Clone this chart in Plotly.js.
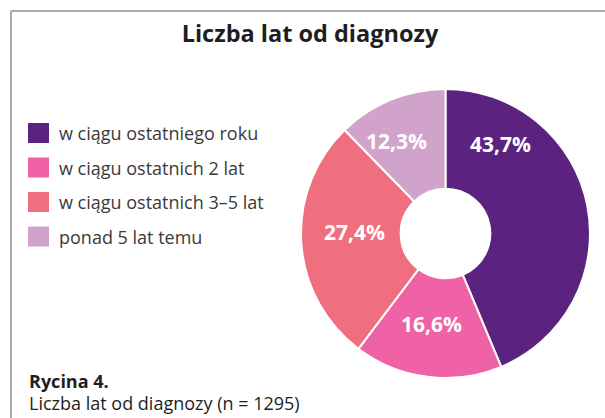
<!DOCTYPE html>
<html>
<head>
<meta charset="utf-8">
<script src="https://cdn.plot.ly/plotly-3.0.1.min.js"></script>
<style>html,body{margin:0;padding:0;background:#fff;}#chart{width:605px;height:418px;}</style>
</head>
<body>
<div id="chart"></div>
<script>
const categories = ["w ciągu ostatniego roku", "w ciągu ostatnich 2 lat", "w ciągu ostatnich 3–5 lat", "ponad 5 lat temu"];
const values = [43.7, 16.6, 27.4, 12.3];
const colors = ["#5B2280", "#EF62A6", "#EF6F7E", "#D1A3CB"];
const chartTitle = "Liczba lat od diagnozy";
const captionHead = "Rycina 4.";
const captionText = "Liczba lat od diagnozy (n = 1295)";

const W = 605, H = 418;
const px = x => x / W;
const py = y => 1 - y / H;
const FONT = "Open Sans, sans-serif";

// layout: label placement (pixel positions of the percentage labels)
const labelPos = [[500, 144], [431, 324], [354, 232], [396, 141]];

const labelsText = values.map(v => v.toFixed(1).replace('.', ',') + '%');

const trace = {
  type: 'pie',
  labels: categories,
  values: values,
  text: labelsText,
  textinfo: 'none',
  hole: 0.31,
  sort: false,
  direction: 'clockwise',
  rotation: 0,
  marker: {colors: colors, line: {color: '#ffffff', width: 2}},
  domain: {x: [px(301), px(590)], y: [py(378), py(89)]},
  showlegend: false,
  hoverinfo: 'label+text'
};

const shapes = [
  {type: 'line', xref: 'paper', yref: 'paper', x0: px(11), x1: px(605), y0: py(11), y1: py(11), line: {color: '#ababab', width: 2}},
  {type: 'line', xref: 'paper', yref: 'paper', x0: px(11), x1: px(11), y0: py(11), y1: py(418), line: {color: '#ababab', width: 2}}
];
const annotations = [];
categories.forEach((c, i) => {
  const yc = 133 + i * 34.5;
  shapes.push({type: 'rect', xref: 'paper', yref: 'paper', x0: px(28), x1: px(49), y0: py(yc + 10), y1: py(yc - 10), fillcolor: colors[i], line: {width: 0}});
  annotations.push({xref: 'paper', yref: 'paper', x: px(57), y: py(yc), xanchor: 'left', yanchor: 'middle', showarrow: false, text: c, font: {family: FONT, size: 18, color: '#3a3a3a'}});
});
labelsText.forEach((t, i) => {
  annotations.push({xref: 'paper', yref: 'paper', x: px(labelPos[i][0]), y: py(labelPos[i][1]), xanchor: 'center', yanchor: 'middle', showarrow: false, text: '<b>' + t + '</b>', font: {family: FONT, size: 21, color: '#ffffff'}});
});
annotations.push({xref: 'paper', yref: 'paper', x: px(27), y: py(381), xanchor: 'left', yanchor: 'middle', showarrow: false, text: '<b>' + captionHead + '</b>', font: {family: FONT, size: 18, color: '#1e1e1e'}});
annotations.push({xref: 'paper', yref: 'paper', x: px(27), y: py(403), xanchor: 'left', yanchor: 'middle', showarrow: false, text: captionText, font: {family: FONT, size: 18, color: '#1e1e1e'}});

const layout = {
  width: W, height: H,
  margin: {l: 0, r: 0, t: 0, b: 0},
  paper_bgcolor: '#ffffff',
  title: {text: '<b>' + chartTitle + '</b>', x: px(310), y: py(34), xanchor: 'center', yanchor: 'middle', xref: 'paper', yref: 'paper', font: {family: FONT, size: 23.5, color: '#1e1e1e'}},
  shapes: shapes,
  annotations: annotations,
  showlegend: false
};

Plotly.newPlot('chart', [trace], layout, {displayModeBar: false, staticPlot: true});
</script>
</body>
</html>
